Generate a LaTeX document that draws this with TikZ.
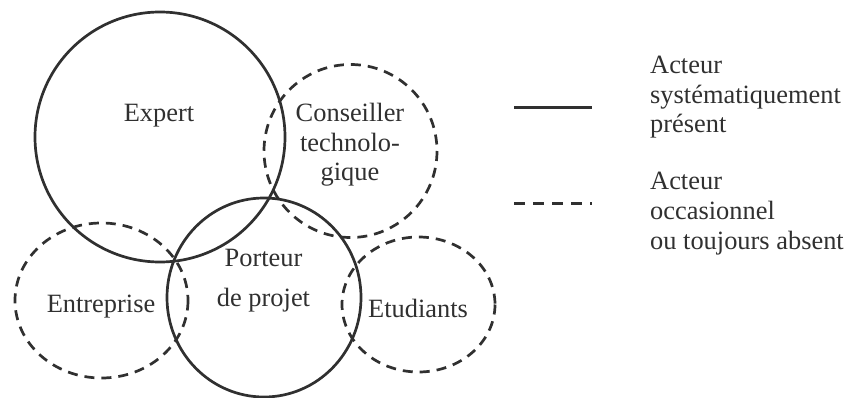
\documentclass[tikz,border=0pt]{standalone}
\usepackage{fontspec}
\setmainfont{Liberation Serif}
\definecolor{ink}{HTML}{303030}
\begin{document}
\begin{tikzpicture}[x=1pt,y=-1pt,
  actor/.style={draw=ink,line width=2.7pt},
  occasional/.style={draw=ink,line width=2.7pt,dash pattern=on 10pt off 7pt},
  legendsolid/.style={draw=ink,line width=2.8pt},
  legenddash/.style={draw=ink,line width=2.8pt,dash pattern=on 11.3pt off 7.7pt},
  lbl/.style={text=ink,inner sep=0pt,align=center,font=\fontsize{26.4}{29.5}\selectfont},
  leg/.style={text=ink,inner sep=0pt,align=left,font=\fontsize{26.4}{29.5}\selectfont}]
\useasboundingbox (0,0) rectangle (848,398);
% circles
\draw[actor] (160,137) circle [radius=125];
\draw[occasional] (350.5,151) circle [radius=86.5];
\draw[actor] (264,297.5) ellipse [x radius=97, y radius=99.5];
\draw[occasional] (101.5,300.5) ellipse [x radius=86.5, y radius=77.5];
\draw[occasional] (418.5,304.5) ellipse [x radius=76.5, y radius=67.5];
% labels (anchor base = baseline of the last line)
\node[lbl,anchor=base] (expert) at (159,122) {Expert};
\node[lbl,anchor=base] (conseiller) at (350,181) {Conseiller\\technolo-\\gique};
\node[lbl,anchor=base] (porteur) at (263.5,306) {Porteur\\[10.5pt]de projet};
\node[lbl,anchor=base] (entreprise) at (101,312) {Entreprise};
\node[lbl,anchor=base] (etudiants) at (418,317) {Etudiants};
% legend
\coordinate (s1) at (514,107.3);
\coordinate (s2) at (592,107.3);
\coordinate (d1) at (514,203.7);
\coordinate (d2) at (592,203.7);
\draw[legendsolid] (s1) -- (s2);
\draw[legenddash] (d1) -- (d2);
\node[leg,anchor=base west] (leg1) at (650,133) {Acteur\\systématiquement\\présent};
\node[leg,anchor=base west] (leg2) at (650,249) {Acteur\\[0.5pt]occasionnel\\[0.5pt]ou toujours absent};
\end{tikzpicture}
\end{document}
